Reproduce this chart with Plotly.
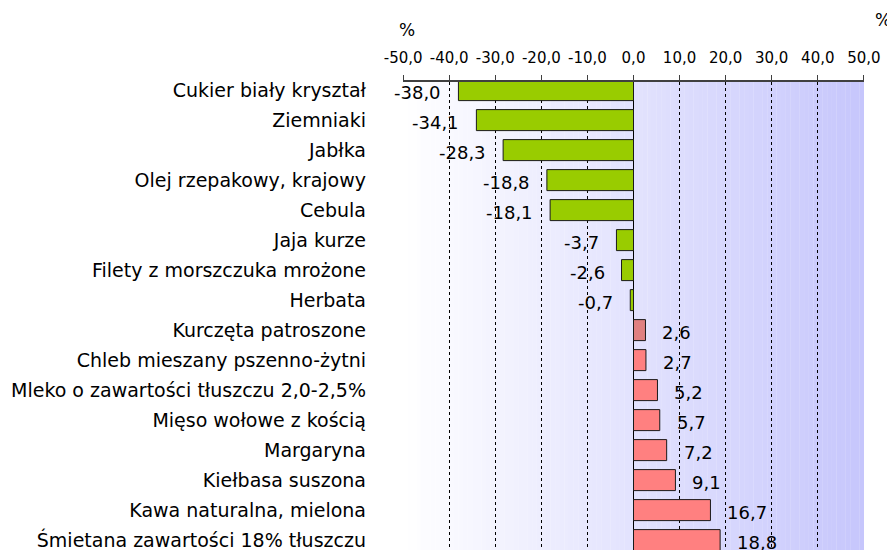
import plotly.graph_objects as go

categories = [
    "Cukier biały kryształ",
    "Ziemniaki",
    "Jabłka",
    "Olej rzepakowy, krajowy",
    "Cebula",
    "Jaja kurze",
    "Filety z morszczuka mrożone",
    "Herbata",
    "Kurczęta patroszone",
    "Chleb mieszany pszenno-żytni",
    "Mleko o zawartości tłuszczu 2,0-2,5%",
    "Mięso wołowe z kością",
    "Margaryna",
    "Kiełbasa suszona",
    "Kawa naturalna, mielona",
    "Śmietana zawartości 18% tłuszczu",
]
values = [-38.0, -34.1, -28.3, -18.8, -18.1, -3.7, -2.6, -0.7,
          2.6, 2.7, 5.2, 5.7, 7.2, 9.1, 16.7, 18.8]
x_ticks = [-50, -40, -30, -20, -10, 0, 10, 20, 30, 40, 50]
x_ticktext = [f"{v:.1f}".replace(".", ",") for v in x_ticks]

FONT = "DejaVu Sans"
GREEN = "#99cc00"
RED = "#ff8080"
RED_DARK = "#e08080"

colors = []
for i, v in enumerate(values):
    if v < 0:
        colors.append(GREEN)
    elif i == 8:
        colors.append(RED_DARK)
    else:
        colors.append(RED)

fig = go.Figure()
fig.add_trace(go.Bar(
    x=values, y=categories, orientation="h",
    marker=dict(color=colors, line=dict(color="#1a1a1a", width=1)),
    hoverinfo="x+y",
))

XMIN, XMAX = -50.03, 50.03

# gradient background (white -> lavender)
shapes = []
n = 100
c0 = (255, 255, 255)
c1 = (198, 198, 252)
for k in range(n):
    t = (k + 0.5) / n
    col = tuple(round(c0[j] + (c1[j] - c0[j]) * t) for j in range(3))
    x0 = XMIN + (XMAX - XMIN) * k / n
    x1 = XMIN + (XMAX - XMIN) * (k + 1) / n
    shapes.append(dict(type="rect", xref="x", yref="paper", x0=x0, x1=x1 + 0.05,
                       y0=0, y1=1, fillcolor="rgb(%d,%d,%d)" % col,
                       line=dict(width=0), layer="below"))

annotations = []
for c, v in zip(categories, values):
    txt = f"{v:.1f}".replace(".", ",")
    annotations.append(dict(
        x=v, y=c, xref="x", yref="y", text=txt, showarrow=False,
        xanchor="right" if v < 0 else "left",
        xshift=-15 if v < 0 else 15, yshift=-2,
        font=dict(family=FONT, size=18, color="#000000"),
    ))

# page body has an 8px margin; plot area on screen: x 403..864, y 82..550
PW, PH = 461.0, 468.0
annotations.append(dict(text="%", xref="paper", yref="paper",
                        x=(397 - 403) / PW, y=(550 - 30) / PH,
                        xanchor="left", yanchor="middle", showarrow=False,
                        font=dict(family=FONT, size=17, color="#000000")))
annotations.append(dict(text="%", xref="paper", yref="paper",
                        x=(893 - 403) / PW, y=(550 - 20) / PH,
                        xanchor="right", yanchor="middle", showarrow=False,
                        font=dict(family=FONT, size=17, color="#000000")))

fig.update_layout(
    width=887, height=542,
    margin=dict(l=395, r=31, t=74, b=0, pad=0, autoexpand=False),
    paper_bgcolor="#ffffff",
    plot_bgcolor="rgba(0,0,0,0)",
    bargap=0.3,
    showlegend=False,
    shapes=shapes,
    annotations=annotations,
    font=dict(family=FONT, color="#000000"),
    xaxis=dict(
        side="top", range=[XMIN, XMAX], tickvals=x_ticks, ticktext=x_ticktext,
        tickangle=0, automargin=False,
        showgrid=True, gridcolor="#000000", griddash="dot", gridwidth=1,
        showline=True, linecolor="#404040", linewidth=2,
        ticks="outside", ticklen=5, tickcolor="#404040", tickwidth=1,
        zeroline=True, zerolinecolor="#000000", zerolinewidth=1,
        tickfont=dict(family=FONT, size=15, color="#000000"),
        ticklabelstandoff=6,
        fixedrange=True,
    ),
    yaxis=dict(
        type="category", range=[15.33, -0.27], automargin=False,
        showgrid=False, showline=False, zeroline=False, ticks="",
        tickfont=dict(family=FONT, size=19, color="#000000"),
        ticklabelstandoff=36,
        fixedrange=True,
    ),
)

fig.write_html("out.html")
